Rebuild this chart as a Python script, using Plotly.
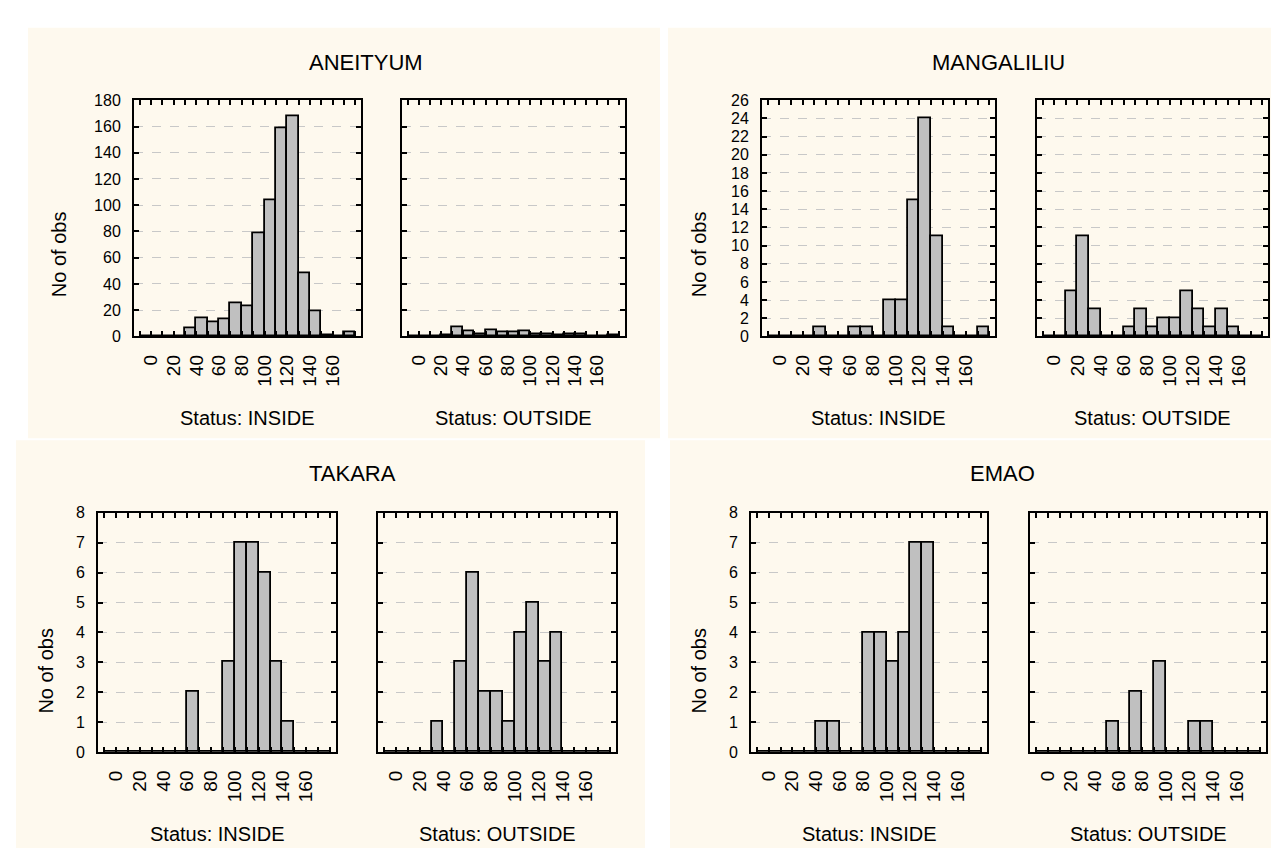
import plotly.graph_objects as go

# ---------------- data ----------------
BIN_CENTERS = [-5, 5, 15, 25, 35, 45, 55, 65, 75, 85, 95, 105, 115, 125, 135, 145, 155, 165, 175]
X_TICK_POSITIONS = [-10, 0, 10, 20, 30, 40, 50, 60, 70, 80, 90, 100, 110, 120, 130, 140, 150, 160, 170, 180]
X_TICK_LABELS = ["0", "20", "40", "60", "80", "100", "120", "140", "160"]

SITES = ["ANEITYUM", "MANGALILIU", "TAKARA", "EMAO"]
STATUS = ["Status: INSIDE", "Status: OUTSIDE"]

ANEITYUM_INSIDE = [0, 0, 0, 0, 6, 14, 11, 13, 25, 23, 79, 104, 159, 168, 48, 19, 1, 0, 3]
ANEITYUM_OUTSIDE = [0, 0, 0, 1, 7, 4, 2, 5, 3, 3, 4, 2, 2, 1, 2, 2, 0, 0, 1]
MANGALILIU_INSIDE = [0, 0, 0, 0, 1, 0, 0, 1, 1, 0, 4, 4, 15, 24, 11, 1, 0, 0, 1]
MANGALILIU_OUTSIDE = [0, 0, 5, 11, 3, 0, 0, 1, 3, 1, 2, 2, 5, 3, 1, 3, 1, 0, 0]
TAKARA_INSIDE = [0, 0, 0, 0, 0, 0, 0, 2, 0, 0, 3, 7, 7, 6, 3, 1, 0, 0, 0]
TAKARA_OUTSIDE = [0, 0, 0, 0, 1, 0, 3, 6, 2, 2, 1, 4, 5, 3, 4, 0, 0, 0, 0]
EMAO_INSIDE = [0, 0, 0, 0, 0, 1, 1, 0, 0, 4, 4, 3, 4, 7, 7, 0, 0, 0, 0]
EMAO_OUTSIDE = [0, 0, 0, 0, 0, 0, 1, 0, 2, 0, 3, 0, 0, 1, 1, 0, 0, 0, 0]

Y_MAX = [180, 26, 8, 8]
Y_STEP = [20, 2, 1, 1]

SERIES = [
    (ANEITYUM_INSIDE, ANEITYUM_OUTSIDE),
    (MANGALILIU_INSIDE, MANGALILIU_OUTSIDE),
    (TAKARA_INSIDE, TAKARA_OUTSIDE),
    (EMAO_INSIDE, EMAO_OUTSIDE),
]

# ---------------- layout (pixels) ----------------
W, H = 1279, 849
LAYOUT_PX = [
    dict(bg=(20, 12, 652, 431), inx=(126, 353), outx=(394, 617), y=(86, 327),
         title=(358, 47), status_y=410, ytitle=(51, 243)),
    dict(bg=(660, 12, 1279, 431), inx=(754, 987), outx=(1029, 1260), y=(86, 327),
         title=(990, 47), status_y=410, ytitle=(691, 243)),
    dict(bg=(8, 433, 637, 849), inx=(90, 328), outx=(370, 608), y=(507, 751),
         title=(345, 467), status_y=835, ytitle=(38, 668)),
    dict(bg=(662, 433, 1279, 849), inx=(743, 979), outx=(1022, 1258), y=(507, 751),
         title=(994, 467), status_y=835, ytitle=(691, 668)),
]

FONT = "Arial, 'Liberation Sans', sans-serif"
CREAM = "#FEF9EE"
FS_TEXT = 20
FS_YTICK = 16
FS_XTICK = 19
FS_TITLE = 22


def fx(px):
    return px / W


def fy(py):
    return 1 - py / H


ticktext = [str(v) if str(v) in X_TICK_LABELS else "" for v in X_TICK_POSITIONS]

fig = go.Figure()
shapes = []
annotations = []
layout_axes = {}

idx = 0
for p, site in enumerate(SITES):
    L = LAYOUT_PX[p]
    x0, y0, x1, y1 = L["bg"]
    shapes.append(dict(type="rect", xref="paper", yref="paper",
                       x0=fx(x0), x1=fx(x1), y0=fy(y1), y1=fy(y0),
                       fillcolor=CREAM, line=dict(width=0), layer="below"))
    for s in range(2):
        idx += 1
        xn = "x" if idx == 1 else f"x{idx}"
        yn = "y" if idx == 1 else f"y{idx}"
        xk = "xaxis" if idx == 1 else f"xaxis{idx}"
        yk = "yaxis" if idx == 1 else f"yaxis{idx}"
        px = L["inx"] if s == 0 else L["outx"]
        fig.add_trace(go.Bar(
            x=BIN_CENTERS, y=SERIES[p][s], width=10,
            marker=dict(color="#C0C0C0", line=dict(color="black", width=1.8)),
            xaxis=xn, yaxis=yn, showlegend=False, hoverinfo="skip"))
        layout_axes[xk] = dict(
            domain=[fx(px[0]), fx(px[1])], anchor=yn, range=[-15, 185],
            tickmode="array", tickvals=X_TICK_POSITIONS, ticktext=ticktext,
            tickangle=-90, ticks="inside", ticklen=5, tickwidth=1.5, tickcolor="black",
            showline=True, linecolor="black", linewidth=2, mirror="ticks",
            showgrid=False, zeroline=False, ticklabelstandoff=9,
            tickfont=dict(family=FONT, size=FS_XTICK, color="black"), fixedrange=True)
        layout_axes[yk] = dict(
            domain=[fy(L["y"][1]), fy(L["y"][0])], anchor=xn,
            range=[0, Y_MAX[p]], tick0=0, dtick=Y_STEP[p],
            ticks="inside", ticklen=5, tickwidth=1.5, tickcolor="black",
            showline=True, linecolor="black", linewidth=2, mirror="ticks",
            showgrid=True, gridcolor="#C8C8C8", griddash="dash", gridwidth=1,
            zeroline=False, showticklabels=(s == 0), ticklabelstandoff=8,
            tickfont=dict(family=FONT, size=FS_YTICK, color="black"), fixedrange=True)
        annotations.append(dict(
            text=STATUS[s], xref="paper", yref="paper",
            x=fx((px[0] + px[1]) / 2), y=fy(L["status_y"]),
            xanchor="center", yanchor="middle", showarrow=False,
            font=dict(family=FONT, size=FS_TEXT, color="black")))
    annotations.append(dict(
        text=site, xref="paper", yref="paper",
        x=fx(L["title"][0]), y=fy(L["title"][1]),
        xanchor="center", yanchor="middle", showarrow=False,
        font=dict(family=FONT, size=FS_TITLE, color="black")))
    annotations.append(dict(
        text="No of obs", xref="paper", yref="paper",
        x=fx(L["ytitle"][0]), y=fy(L["ytitle"][1]), textangle=-90,
        xanchor="center", yanchor="middle", showarrow=False,
        font=dict(family=FONT, size=FS_TEXT, color="black")))

fig.update_layout(
    width=W, height=H, margin=dict(l=0, r=0, t=0, b=0),
    paper_bgcolor="white", plot_bgcolor="white",
    shapes=shapes, annotations=annotations, bargap=0,
    **layout_axes)

fig.write_html("out.html")
